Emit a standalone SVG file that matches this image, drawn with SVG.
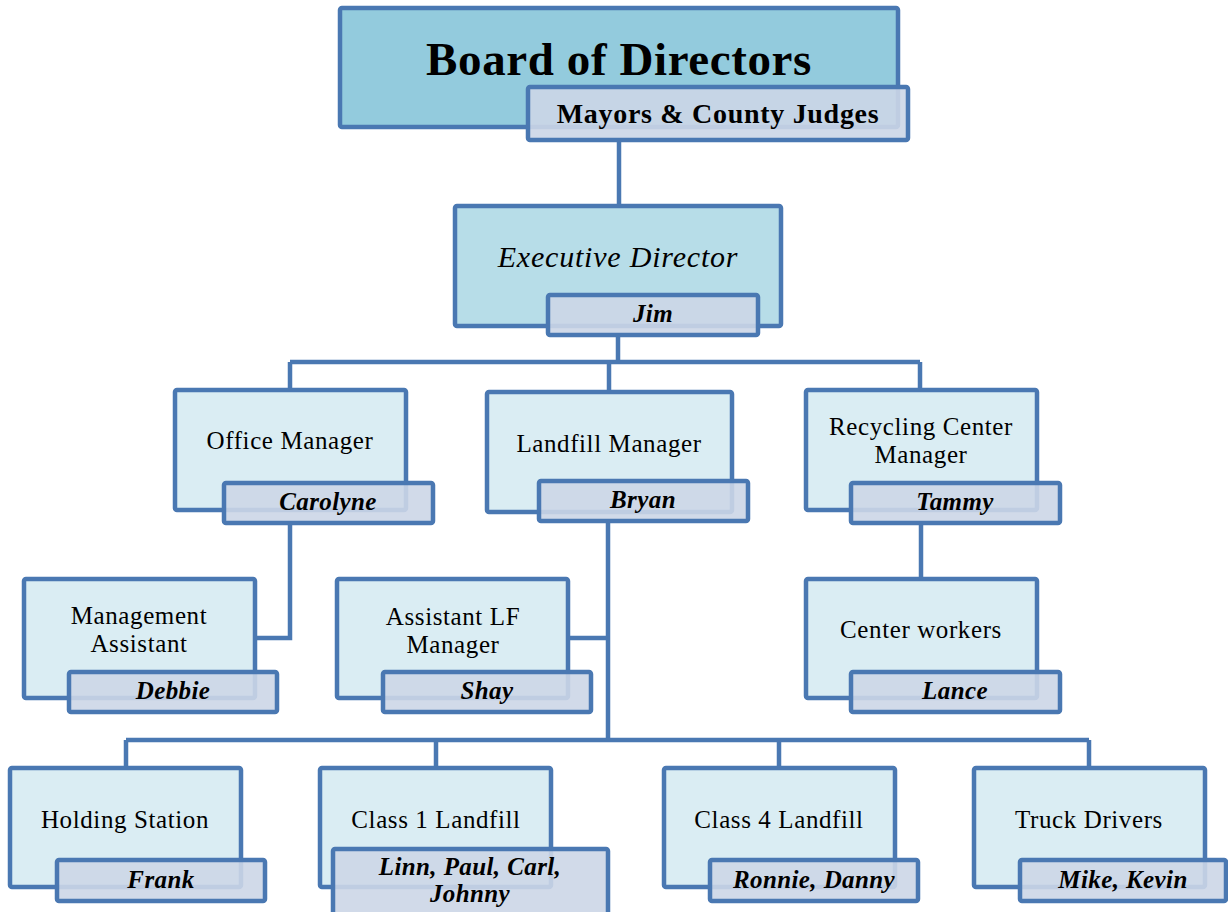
<svg xmlns="http://www.w3.org/2000/svg" width="1228" height="912" viewBox="0 0 1228 912">
<style>
.box{fill:#daedf3;stroke:#4a78b2;stroke-width:4.5}
.nm{fill:#ccd6e7;fill-opacity:0.9;stroke:#4a78b2;stroke-width:4.5}
.t{font-family:"Liberation Serif","Times New Roman",serif;font-size:25px;fill:#000;text-anchor:middle;letter-spacing:0.6px}
.n{font-family:"Liberation Serif","Times New Roman",serif;font-size:25px;font-weight:bold;font-style:italic;fill:#000;text-anchor:middle;letter-spacing:0.4px}
.c{fill:none;stroke:#4a78b2;stroke-width:4.5}
</style>
<rect width="1228" height="912" fill="#fff"/>
<g id="connectors">
<path class="c" d="M619 140V206"/>
<path class="c" d="M618 335V362M290 362H920M290 362V389M609 362V391M920 362V389"/>
<path class="c" d="M290 524V638H255"/>
<path class="c" d="M608 522V740M568 638H608"/>
<path class="c" d="M921 524V578"/>
<path class="c" d="M126 740H1089M126 740V767M436 740V767M779 740V767M1089 740V767"/>
</g>
<g id="board">
<rect x="340" y="8" width="558" height="119" rx="2" fill="#93cbdd" stroke="#4a78b2" stroke-width="4.5"/>
<text x="619" y="75" font-family="'Liberation Serif','Times New Roman',serif" font-size="47" font-weight="bold" text-anchor="middle" letter-spacing="0.6">Board of Directors</text>
<rect class="nm" x="528" y="87" width="380" height="53" rx="2"/>
<text x="718" y="123" font-family="'Liberation Serif','Times New Roman',serif" font-size="28" font-weight="bold" text-anchor="middle" letter-spacing="0.7">Mayors &amp; County Judges</text>
</g>
<g id="exec">
<rect x="455" y="206" width="326" height="120" rx="2" fill="#b7dde8" stroke="#4a78b2" stroke-width="4.5"/>
<text x="618" y="267" font-family="'Liberation Serif','Times New Roman',serif" font-size="30" font-style="italic" text-anchor="middle" letter-spacing="0.8">Executive Director</text>
<rect class="nm" x="548" y="295" width="210" height="40" rx="2"/>
<text class="n" x="653" y="322">Jim</text>
</g>
<g id="office">
<rect class="box" x="175" y="390" width="231" height="120" rx="2"/>
<text class="t" x="290" y="449">Office Manager</text>
<rect class="nm" x="224" y="483" width="209" height="40" rx="2"/>
<text class="n" x="328" y="510">Carolyne</text>
</g>
<g id="landfill">
<rect class="box" x="487" y="392" width="245" height="120" rx="2"/>
<text class="t" x="609" y="452">Landfill Manager</text>
<rect class="nm" x="539" y="481" width="209" height="40" rx="2"/>
<text class="n" x="643" y="508">Bryan</text>
</g>
<g id="recycling">
<rect class="box" x="806" y="390" width="231" height="120" rx="2"/>
<text class="t" x="921" y="435">Recycling Center</text>
<text class="t" x="921" y="463">Manager</text>
<rect class="nm" x="851" y="483" width="209" height="40" rx="2"/>
<text class="n" x="955" y="510">Tammy</text>
</g>
<g id="mgmt">
<rect class="box" x="24" y="579" width="231" height="119" rx="2"/>
<text class="t" x="139" y="624">Management</text>
<text class="t" x="139" y="652">Assistant</text>
<rect class="nm" x="69" y="672" width="208" height="40" rx="2"/>
<text class="n" x="173" y="699">Debbie</text>
</g>
<g id="asstlf">
<rect class="box" x="337" y="579" width="231" height="119" rx="2"/>
<text class="t" x="453" y="625">Assistant LF</text>
<text class="t" x="453" y="653">Manager</text>
<rect class="nm" x="383" y="672" width="208" height="40" rx="2"/>
<text class="n" x="487" y="699">Shay</text>
</g>
<g id="center">
<rect class="box" x="806" y="579" width="231" height="119" rx="2"/>
<text class="t" x="921" y="638">Center workers</text>
<rect class="nm" x="851" y="672" width="209" height="40" rx="2"/>
<text class="n" x="955" y="699">Lance</text>
</g>
<g id="holding">
<rect class="box" x="10" y="768" width="231" height="119" rx="2"/>
<text class="t" x="125" y="828">Holding Station</text>
<rect class="nm" x="57" y="860" width="208" height="41" rx="2"/>
<text class="n" x="161" y="888">Frank</text>
</g>
<g id="class1">
<rect class="box" x="320" y="768" width="231" height="119" rx="2"/>
<text class="t" x="436" y="828">Class 1 Landfill</text>
<rect class="nm" x="333" y="849" width="275" height="70" rx="2"/>
<text class="n" x="470" y="875">Linn, Paul, Carl,</text>
<text class="n" x="470" y="902">Johnny</text>
</g>
<g id="class4">
<rect class="box" x="664" y="768" width="231" height="119" rx="2"/>
<text class="t" x="779" y="828">Class 4 Landfill</text>
<rect class="nm" x="710" y="860" width="208" height="41" rx="2"/>
<text class="n" x="814" y="888">Ronnie, Danny</text>
</g>
<g id="truck">
<rect class="box" x="974" y="768" width="231" height="119" rx="2"/>
<text class="t" x="1089" y="828">Truck Drivers</text>
<rect class="nm" x="1020" y="860" width="206" height="41" rx="2"/>
<text class="n" x="1123" y="888">Mike, Kevin</text>
</g>
</svg>
